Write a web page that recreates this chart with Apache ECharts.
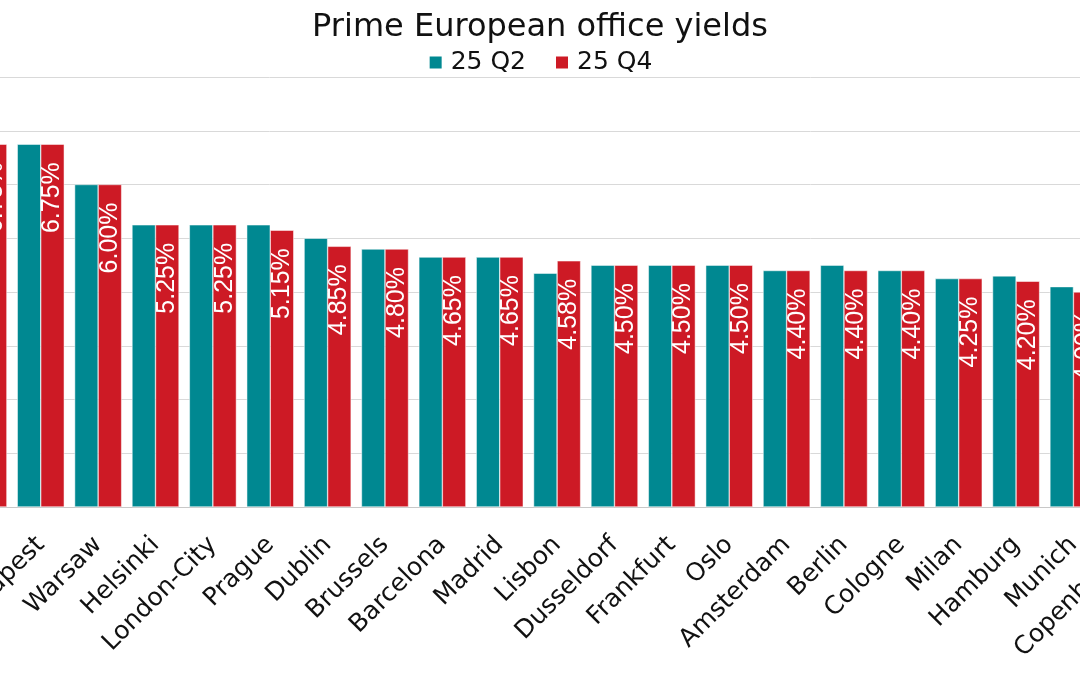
<!DOCTYPE html>
<html>
<head>
<meta charset="utf-8">
<script src="https://cdn.jsdelivr.net/npm/echarts@6/dist/echarts.min.js"></script>
<style>html,body{margin:0;padding:0;background:#fff;}#c{width:1080px;height:675px;}</style>
</head>
<body>
<div id="c"></div>
<script>
const categories = ["Bucharest","Budapest","Warsaw","Helsinki","London-City","Prague","Dublin","Brussels","Barcelona","Madrid","Lisbon","Dusseldorf","Frankfurt","Oslo","Amsterdam","Berlin","Cologne","Milan","Hamburg","Munich","Copenhagen"];
const q2 = [6.75,6.75,6.00,5.25,5.25,5.25,5.00,4.80,4.65,4.65,4.35,4.50,4.50,4.50,4.40,4.50,4.40,4.25,4.30,4.10,4.00];
const q4 = [6.75,6.75,6.00,5.25,5.25,5.15,4.85,4.80,4.65,4.65,4.58,4.50,4.50,4.50,4.40,4.40,4.40,4.25,4.20,4.00,4.00];
const seriesNames = ["25 Q2","25 Q4"];
const yTicks = {min:0, max:8, interval:1};

const FONT = "DejaVu Sans";
const chart = echarts.init(document.getElementById('c'), null, {renderer:'canvas'});
chart.setOption({
  animation:false,
  backgroundColor:'#fff',
  title:{text:'Prime European office yields', left:'center', top:7,
    textStyle:{fontFamily:FONT, fontSize:32, fontWeight:'normal', color:'#111'}},
  legend:{top:45, left:'center', itemWidth:14, itemHeight:14, itemGap:28,
    icon:'rect', textStyle:{fontFamily:FONT, fontSize:25, color:'#111', padding:[0,0,0,3]}, data:seriesNames},
  grid:{left:-45.3, right:-79.5, top:77, bottom:168, outerBoundsMode:'none'},
  xAxis:{type:'category', data:categories,
    axisLine:{lineStyle:{color:'#c8c8c8', width:1}}, axisTick:{show:false},
    axisLabel:{rotate:45, interval:0, margin:34, fontFamily:FONT, fontSize:25, color:'#111'}},
  yAxis:{type:'value', min:yTicks.min, max:yTicks.max, interval:yTicks.interval,
    axisLabel:{show:false}, axisLine:{show:false}, axisTick:{show:false},
    splitLine:{lineStyle:{color:'#d9d9d9', width:1}}},
  series:[
    {name:seriesNames[0], type:'bar', data:q2, barGap:'0%', barCategoryGap:'18%',
      itemStyle:{color:'#008891', borderColor:'#ffffff', borderWidth:0.5}},
    {name:seriesNames[1], type:'bar', data:q4, barGap:'0%', barCategoryGap:'18%',
      itemStyle:{color:'#CD1A25', borderColor:'#ffffff', borderWidth:0.5},
      label:{show:true, position:'insideTop', distance:18, rotate:90, align:'right', verticalAlign:'middle',
        fontFamily:"Liberation Sans", fontSize:25, color:'#fff',
        formatter:p=>p.value.toFixed(2)+'%'}}
  ]
});
</script>
</body>
</html>
